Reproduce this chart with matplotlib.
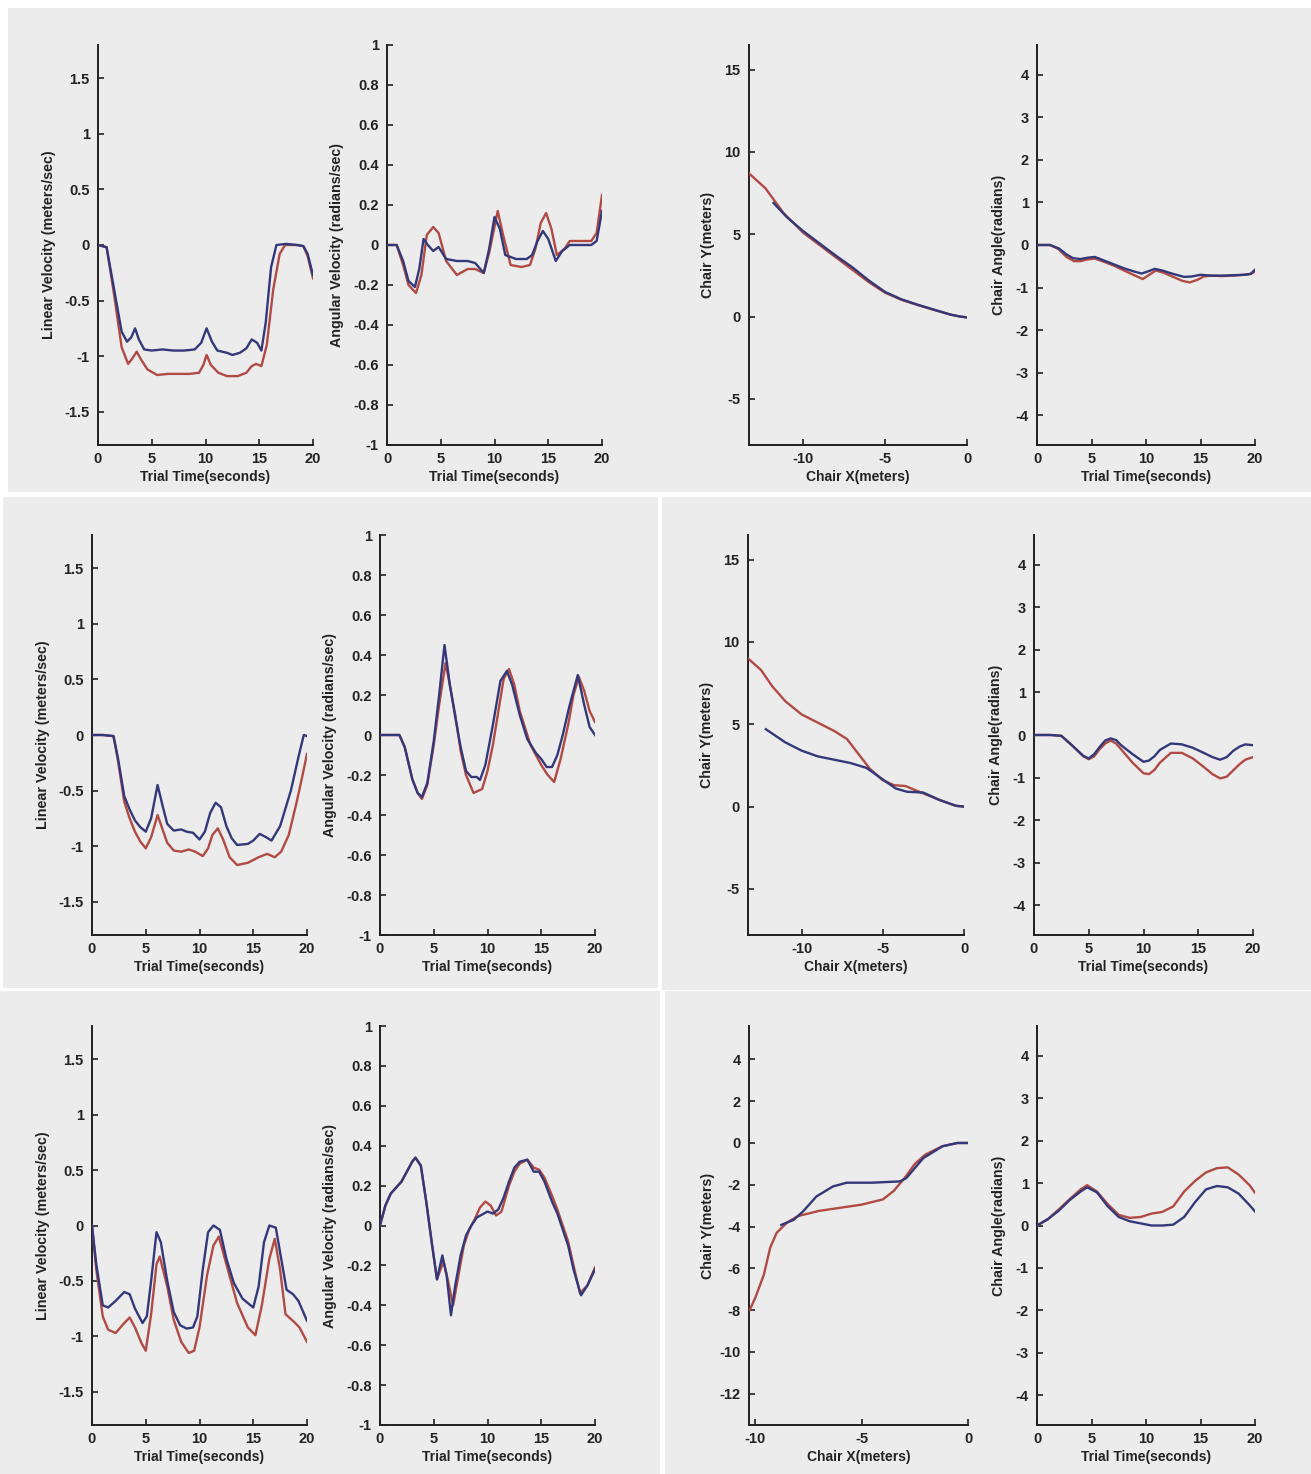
import matplotlib
matplotlib.use('Agg')
import matplotlib.pyplot as plt
from matplotlib.patches import Rectangle
import numpy as np

plt.rcParams['font.family'] = ['Liberation Sans', 'DejaVu Sans']

W, H = 1311, 1474
BLUE = '#33387a'
RED = '#b24a44'
BG = '#ececec'

# ---- data ----
# row 1
a1_t_blue = [0, 0.8, 1.5, 2.2, 2.7, 3.1, 3.45, 3.8, 4.3, 5, 6, 7, 8, 9, 9.6, 10.1, 10.6, 11.1, 12, 12.5, 13.2, 13.8, 14.3, 14.8, 15.2, 15.6, 16.1, 16.6, 17.5, 18.5, 19.1, 19.5, 20]
a1_v_blue = [0, -0.02, -0.4, -0.78, -0.87, -0.83, -0.75, -0.85, -0.94, -0.95, -0.94, -0.95, -0.95, -0.94, -0.88, -0.75, -0.87, -0.95, -0.97, -0.99, -0.97, -0.93, -0.85, -0.88, -0.95, -0.7, -0.2, 0, 0.01, 0, -0.01, -0.08, -0.27]
a1_t_red = [0, 0.8, 1.5, 2.2, 2.8, 3.2, 3.6, 4.0, 4.6, 5.5, 6.5, 7.5, 8.5, 9.4, 9.8, 10.1, 10.5, 11.2, 12, 13, 13.8, 14.3, 14.7, 15.2, 15.7, 16.3, 16.9, 17.4, 18.5, 19.1, 19.5, 20]
a1_v_red = [0, -0.02, -0.45, -0.92, -1.07, -1.02, -0.96, -1.03, -1.12, -1.17, -1.16, -1.16, -1.16, -1.15, -1.08, -0.99, -1.08, -1.15, -1.18, -1.18, -1.15, -1.09, -1.07, -1.09, -0.9, -0.4, -0.08, 0, 0, -0.01, -0.1, -0.3]

a2_t_blue = [0, 0.9, 1.5, 2.0, 2.6, 3.0, 3.4, 3.8, 4.3, 4.8, 5.5, 6.5, 7.5, 8.2, 9.0, 9.5, 10.0, 10.5, 11.0, 12.0, 13.0, 13.5, 14.0, 14.5, 15.0, 15.7, 16.3, 17.0, 18.0, 19.0, 19.5, 20]
a2_w_blue = [0, 0, -0.08, -0.18, -0.21, -0.12, 0.03, 0.0, -0.03, -0.01, -0.07, -0.08, -0.08, -0.09, -0.14, -0.02, 0.14, 0.08, -0.05, -0.07, -0.07, -0.05, 0.02, 0.07, 0.03, -0.08, -0.03, 0, 0, 0, 0.02, 0.17]
a2_t_red = [0, 0.9, 1.5, 2.0, 2.7, 3.2, 3.7, 4.3, 4.8, 5.5, 6.5, 7.5, 8.2, 9.0, 9.5, 10.3, 10.8, 11.5, 12.5, 13.3, 13.8, 14.3, 14.8, 15.3, 15.8, 16.5, 17.0, 18.0, 19.0, 19.5, 20]
a2_w_red = [0, 0, -0.1, -0.2, -0.24, -0.15, 0.05, 0.09, 0.06, -0.08, -0.15, -0.12, -0.12, -0.14, -0.04, 0.17, 0.05, -0.1, -0.11, -0.1, -0.02, 0.11, 0.16, 0.08, -0.05, -0.02, 0.02, 0.02, 0.02, 0.06, 0.25]

a3_x_red = [-13.3, -12.3, -11.2, -10.0, -9.0, -8.0, -7.0, -6.0, -5.0, -4.0, -3.0, -2.0, -1.0, -0.4, 0]
a3_y_red = [8.7, 7.8, 6.3, 5.1, 4.35, 3.6, 2.85, 2.1, 1.45, 1.02, 0.7, 0.4, 0.12, 0.0, -0.05]
a3_x_blue = [-11.8, -11.0, -10.0, -9.0, -8.0, -7.0, -6.0, -5.0, -4.0, -3.0, -2.0, -1.0, -0.4, 0]
a3_y_blue = [6.9, 6.05, 5.2, 4.45, 3.7, 3.0, 2.2, 1.5, 1.05, 0.72, 0.42, 0.12, 0.0, -0.05]

a4_t_blue = [0, 1.2, 2.0, 2.7, 3.3, 4.0, 4.6, 5.3, 6.0, 7.0, 8.0, 9.0, 9.6, 10.2, 10.8, 11.5, 12.5, 13.5, 14.2, 15.0, 16.0, 17.0, 18.0, 19.0, 19.6, 20]
a4_a_blue = [0, 0, -0.08, -0.22, -0.31, -0.33, -0.3, -0.28, -0.35, -0.45, -0.55, -0.63, -0.67, -0.62, -0.56, -0.6, -0.68, -0.75, -0.74, -0.7, -0.72, -0.72, -0.71, -0.7, -0.68, -0.58]
a4_t_red = [0, 1.2, 2.0, 2.7, 3.4, 4.0, 4.6, 5.3, 6.0, 7.0, 8.0, 9.0, 9.7, 10.3, 10.9, 11.6, 12.5, 13.3, 14.0, 14.7, 15.3, 16.0, 17.0, 18.0, 19.0, 19.6, 20]
a4_a_red = [0, 0, -0.1, -0.28, -0.38, -0.38, -0.34, -0.32, -0.38, -0.48, -0.6, -0.72, -0.8, -0.7, -0.6, -0.65, -0.75, -0.84, -0.88, -0.82, -0.74, -0.72, -0.73, -0.72, -0.7, -0.68, -0.62]

# row 2
b1_t_blue = [0, 1.0, 2.0, 2.4, 3.0, 3.5, 4.0, 4.5, 5.0, 5.5, 6.1, 6.6, 7.0, 7.6, 8.3, 8.8, 9.4, 10.0, 10.5, 11.0, 11.5, 12.0, 12.5, 13.0, 13.5, 14.5, 15.0, 15.6, 16.2, 16.7, 17.5, 18.5, 19.2, 19.7, 20]
b1_v_blue = [0, 0, -0.01, -0.2, -0.55, -0.67, -0.77, -0.83, -0.87, -0.75, -0.45, -0.65, -0.8, -0.86, -0.85, -0.87, -0.88, -0.94, -0.87, -0.7, -0.61, -0.65, -0.82, -0.93, -0.99, -0.98, -0.95, -0.89, -0.92, -0.95, -0.82, -0.5, -0.2, 0.0, -0.01]
b1_t_red = [0, 1.0, 2.0, 2.4, 3.0, 3.5, 4.0, 4.5, 5.0, 5.5, 6.1, 6.6, 7.0, 7.6, 8.3, 9.0, 9.6, 10.3, 10.8, 11.2, 11.7, 12.2, 12.8, 13.5, 14.5, 15.5, 16.3, 17.0, 17.6, 18.3, 19.0, 19.5, 20]
b1_v_red = [0, 0, -0.01, -0.22, -0.6, -0.75, -0.87, -0.96, -1.02, -0.92, -0.72, -0.86, -0.97, -1.04, -1.05, -1.03, -1.05, -1.09, -1.02, -0.9, -0.84, -0.94, -1.1, -1.17, -1.15, -1.1, -1.07, -1.1, -1.05, -0.9, -0.62, -0.4, -0.17]

b2_t_blue = [0, 1.0, 1.8, 2.3, 3.0, 3.5, 3.9, 4.4, 5.0, 5.5, 6.0, 6.5, 7.0, 7.5, 8.0, 8.5, 9.0, 9.3, 9.8, 10.5, 11.2, 11.8, 12.3, 13.0, 13.7, 14.5, 15.0, 15.5, 16.0, 16.5, 17.0, 17.6, 18.4, 19.0, 19.5, 20]
b2_w_blue = [0, 0, 0, -0.06, -0.22, -0.29, -0.31, -0.24, -0.03, 0.2, 0.45, 0.25, 0.09, -0.06, -0.18, -0.21, -0.21, -0.225, -0.15, 0.05, 0.27, 0.32, 0.25, 0.1, -0.02, -0.09, -0.12, -0.16, -0.16, -0.1, 0.0, 0.14, 0.3, 0.15, 0.04, 0.0]
b2_t_red = [0, 1.0, 1.8, 2.3, 3.0, 3.5, 3.9, 4.4, 5.0, 5.5, 6.1, 6.6, 7.0, 7.5, 8.0, 8.7, 9.5, 10.0, 10.5, 11.5, 12.0, 12.5, 13.0, 14.0, 15.0, 15.6, 16.2, 16.8, 17.5, 18.0, 18.5, 19.0, 19.5, 20]
b2_w_red = [0, 0, 0, -0.06, -0.22, -0.29, -0.32, -0.25, -0.05, 0.15, 0.36, 0.22, 0.1, -0.08, -0.2, -0.29, -0.27, -0.18, -0.05, 0.28, 0.33, 0.25, 0.12, -0.05, -0.15, -0.2, -0.235, -0.12, 0.05, 0.2, 0.29, 0.22, 0.12, 0.065]

b3_x_red = [-13.3, -12.5, -11.8, -11.0, -10.0, -9.0, -8.0, -7.2, -6.5, -5.8, -5.0, -4.3, -3.6, -3.0, -2.5, -1.5, -0.5, 0]
b3_y_red = [9.0, 8.3, 7.3, 6.4, 5.6, 5.1, 4.6, 4.1, 3.2, 2.3, 1.6, 1.3, 1.25, 1.0, 0.8, 0.4, 0.05, 0.0]
b3_x_blue = [-12.2, -11.0, -10.0, -9.0, -8.0, -7.0, -6.0, -5.0, -4.2, -3.5, -3.0, -2.5, -1.5, -0.5, 0]
b3_y_blue = [4.7, 3.9, 3.4, 3.05, 2.85, 2.65, 2.35, 1.65, 1.1, 0.9, 0.88, 0.85, 0.4, 0.05, 0.0]

b4_t = [0, 1.5, 2.5, 3.5, 4.5, 5.0, 5.5, 6.0, 6.5, 7.0, 7.5, 8.0, 9.0, 10.0, 10.5, 11.0, 11.5, 12.5, 13.5, 14.5, 15.5, 16.3, 17.0, 17.6, 18.2, 18.8, 19.3, 20]
b4_a_blue = [0, 0, -0.02, -0.25, -0.49, -0.55, -0.45, -0.28, -0.13, -0.08, -0.12, -0.25, -0.45, -0.63, -0.6, -0.5, -0.35, -0.2, -0.22, -0.3, -0.42, -0.52, -0.58, -0.52, -0.37, -0.27, -0.22, -0.24]
b4_a_red = [0, 0, -0.02, -0.25, -0.5, -0.57, -0.5, -0.33, -0.2, -0.13, -0.2, -0.35, -0.65, -0.9, -0.92, -0.82, -0.65, -0.42, -0.42, -0.55, -0.75, -0.92, -1.02, -0.98, -0.83, -0.68, -0.58, -0.52]

# row 3
c1_t_blue = [0, 0.4, 1.0, 1.5, 2.2, 3.0, 3.5, 4.0, 4.7, 5.1, 5.5, 6.0, 6.4, 7.0, 7.6, 8.2, 8.8, 9.4, 9.8, 10.3, 10.8, 11.3, 11.9, 12.5, 13.2, 14.0, 15.0, 15.5, 16.0, 16.5, 17.1, 17.6, 18.1, 18.7, 19.2, 20]
c1_v_blue = [0, -0.35, -0.72, -0.74, -0.68, -0.6, -0.62, -0.75, -0.88, -0.82, -0.5, -0.06, -0.15, -0.5, -0.78, -0.9, -0.93, -0.92, -0.82, -0.4, -0.06, 0.0, -0.04, -0.3, -0.52, -0.66, -0.74, -0.55, -0.15, 0.0, -0.02, -0.3, -0.58, -0.62, -0.68, -0.86]
c1_t_red = [0, 0.4, 1.0, 1.5, 2.2, 3.0, 3.5, 4.0, 4.6, 5.0, 5.5, 6.0, 6.3, 7.0, 7.6, 8.3, 9.0, 9.5, 10.0, 10.7, 11.3, 11.8, 12.5, 13.5, 14.5, 15.2, 15.8, 16.5, 17.0, 17.5, 18.0, 18.8, 19.3, 20]
c1_v_red = [0, -0.4, -0.82, -0.94, -0.97, -0.88, -0.83, -0.92, -1.06, -1.13, -0.8, -0.35, -0.28, -0.55, -0.85, -1.05, -1.15, -1.13, -0.92, -0.45, -0.18, -0.1, -0.35, -0.7, -0.92, -0.99, -0.72, -0.3, -0.12, -0.4, -0.8, -0.87, -0.92, -1.05]

c2_t_blue = [0, 0.5, 1.0, 1.5, 2.0, 2.5, 3.0, 3.3, 3.8, 4.3, 4.8, 5.3, 5.8, 6.2, 6.6, 7.0, 7.5, 8.0, 8.5, 9.0, 10.0, 10.5, 11.0, 11.5, 12.0, 12.5, 13.0, 13.7, 14.3, 14.8, 15.3, 16.0, 16.5, 17.0, 17.5, 18.0, 18.7, 19.3, 20]
c2_w_blue = [0, 0.1, 0.16, 0.19, 0.22, 0.27, 0.32, 0.34, 0.3, 0.12, -0.08, -0.27, -0.15, -0.25, -0.45, -0.3, -0.15, -0.05, 0.0, 0.04, 0.07, 0.06, 0.08, 0.14, 0.22, 0.29, 0.32, 0.33, 0.27, 0.27, 0.22, 0.12, 0.06, -0.02, -0.1, -0.22, -0.35, -0.3, -0.22]
c2_t_red = [0, 0.5, 1.0, 1.5, 2.0, 2.5, 3.0, 3.3, 3.8, 4.3, 4.8, 5.3, 5.9, 6.3, 6.8, 7.3, 7.8, 8.3, 8.8, 9.3, 9.8, 10.3, 10.8, 11.3, 12.0, 12.5, 13.0, 13.7, 14.3, 14.8, 15.3, 16.0, 16.5, 17.0, 17.5, 18.0, 18.6, 19.3, 20]
c2_w_red = [0, 0.1, 0.16, 0.19, 0.22, 0.27, 0.32, 0.34, 0.3, 0.12, -0.08, -0.27, -0.18, -0.27, -0.4, -0.25, -0.1, -0.02, 0.03, 0.09, 0.12, 0.1, 0.05, 0.07, 0.2, 0.27, 0.31, 0.33, 0.29, 0.28, 0.24, 0.15, 0.08, 0.0, -0.08, -0.2, -0.34, -0.3, -0.21]

c3_x_red = [-10.27, -10.0, -9.6, -9.3, -9.0, -8.5, -8.0, -7.0, -6.0, -5.0, -4.0, -3.5, -3.0, -2.5, -2.0, -1.2, -0.5, 0]
c3_y_red = [-8.0, -7.4, -6.3, -5.0, -4.3, -3.8, -3.5, -3.25, -3.1, -2.95, -2.7, -2.3, -1.7, -1.0, -0.55, -0.15, 0.0, 0.0]
c3_x_blue = [-8.78, -8.2, -7.76, -7.13, -6.35, -5.7, -4.5, -3.2, -2.9, -2.5, -2.1, -1.2, -0.5, 0]
c3_y_blue = [-3.92, -3.68, -3.28, -2.56, -2.08, -1.9, -1.9, -1.84, -1.68, -1.2, -0.72, -0.16, 0.0, 0.0]

c4_t = [0, 1, 2, 3, 4, 4.6, 5.5, 6.5, 7.5, 8.5, 9.5, 10.5, 11.5, 12.5, 13.5, 14.5, 15.5, 16.5, 17.5, 18.5, 19.5, 20]
c4_a_blue = [0, 0.15, 0.35, 0.6, 0.8, 0.9, 0.78, 0.45, 0.2, 0.1, 0.05, 0.0, 0.0, 0.02, 0.2, 0.55, 0.85, 0.93, 0.9, 0.75, 0.48, 0.33]
c4_a_red = [0, 0.15, 0.38, 0.62, 0.85, 0.95, 0.8, 0.5, 0.25, 0.18, 0.2, 0.28, 0.32, 0.45, 0.8, 1.05, 1.25, 1.35, 1.37, 1.2, 0.95, 0.77]

# tick sets and labels
lin_ticks = [-1.5, -1, -0.5, 0, 0.5, 1, 1.5]
lin_labels = ['-1.5', '-1', '-0.5', '0', '0.5', '1', '1.5']
ang_ticks = [-1, -0.8, -0.6, -0.4, -0.2, 0, 0.2, 0.4, 0.6, 0.8, 1]
ang_labels = ['-1', '-0.8', '-0.6', '-0.4', '-0.2', '0', '0.2', '0.4', '0.6', '0.8', '1']
time_ticks = [0, 5, 10, 15, 20]
chx_ticks = [-10, -5, 0]
chy_ticks_top = [-5, 0, 5, 10, 15]
chy_ticks_bot = [-12, -10, -8, -6, -4, -2, 0, 2, 4]
cha_ticks = [-4, -3, -2, -1, 0, 1, 2, 3, 4]

fig = plt.figure(figsize=(W / 100, H / 100), dpi=100)
fig.patch.set_facecolor('white')

# grey screenshot panels (pixel boxes: x0, y0, x1, y1)
panels = [(8, 8, 1311, 492), (3, 497, 658, 988), (662, 497, 1311, 990),
          (0, 991, 660, 1474), (665, 991, 1311, 1474)]
for x0, y0, x1, y1 in panels:
    fig.add_artist(Rectangle((x0 / W, 1 - y1 / H), (x1 - x0) / W, (y1 - y0) / H,
                             transform=fig.transFigure, facecolor=BG, edgecolor='none', zorder=-10))


def make_ax(l, t, r, b):
    ax = fig.add_axes([l / W, 1 - b / H, (r - l) / W, (b - t) / H])
    ax.set_zorder(5)
    return ax


def style(ax, xlabel, ylabel, ylab_off, xlim, ylim, xt, yt, ytl=None):
    ax.set_facecolor('none')
    for s in ['top', 'right']:
        ax.spines[s].set_visible(False)
    for s in ['left', 'bottom']:
        ax.spines[s].set_linewidth(1.4)
        ax.spines[s].set_color('#202020')
    ax.set_xlim(xlim)
    ax.set_ylim(ylim)
    ax.set_xticks(xt)
    ax.set_xticklabels([str(v) for v in xt])
    ax.set_yticks(yt)
    ax.set_yticklabels(ytl if ytl else [str(v) for v in yt])
    ax.tick_params(direction='in', length=4, width=1.2, colors='#202020',
                   labelsize=10.5)
    ax.tick_params(axis='y', pad=6)
    ax.tick_params(axis='x', pad=5)
    for lab in ax.get_xticklabels() + ax.get_yticklabels():
        lab.set_fontweight('bold')
        lab.set_color('#222222')
    ax.set_xlabel(xlabel, fontsize=10, fontweight='bold', color='#222222')
    ax.set_ylabel(ylabel, fontsize=10.3, fontweight='bold', color='#222222')
    wpx = ax.get_position().width * W
    hpx = ax.get_position().height * H
    ax.xaxis.set_label_coords(0.5, -25 / hpx)
    ax.yaxis.set_label_coords(-ylab_off / wpx, 0.5)


def lines(ax, xb, yb, xr, yr):
    ax.plot(xr, yr, color=RED, lw=1.7, zorder=3)
    ax.plot(xb, yb, color=BLUE, lw=1.7, zorder=4)


TT = 'Trial Time(seconds)'
LV = 'Linear Velocity (meters/sec)'
AV = 'Angular Velocity (radians/sec)'
CY = 'Chair Y(meters)'
CX = 'Chair X(meters)'
CA = 'Chair Angle(radians)'

rows = [
    dict(top=45, bot=445, lin=(98, 313), ang=(387, 602), chy=(749, 967), cha=(1037, 1255),
         d1=(a1_t_blue, a1_v_blue, a1_t_red, a1_v_red),
         d2=(a2_t_blue, a2_w_blue, a2_t_red, a2_w_red),
         d3=(a3_x_blue, a3_y_blue, a3_x_red, a3_y_red),
         d4=(a4_t_blue, a4_a_blue, a4_t_red, a4_a_red),
         cxlim=(-13.3, 0), cylim=(-7.8, 16.5), cyt=chy_ticks_top),
    dict(top=535, bot=935, lin=(92, 307), ang=(380, 595), chy=(748, 964), cha=(1034, 1253),
         d1=(b1_t_blue, b1_v_blue, b1_t_red, b1_v_red),
         d2=(b2_t_blue, b2_w_blue, b2_t_red, b2_w_red),
         d3=(b3_x_blue, b3_y_blue, b3_x_red, b3_y_red),
         d4=(b4_t, b4_a_blue, b4_t, b4_a_red),
         cxlim=(-13.3, 0), cylim=(-7.8, 16.5), cyt=chy_ticks_top),
    dict(top=1026, bot=1425, lin=(92, 307), ang=(380, 595), chy=(749, 968), cha=(1037, 1255),
         d1=(c1_t_blue, c1_v_blue, c1_t_red, c1_v_red),
         d2=(c2_t_blue, c2_w_blue, c2_t_red, c2_w_red),
         d3=(c3_x_blue, c3_y_blue, c3_x_red, c3_y_red),
         d4=(c4_t, c4_a_blue, c4_t, c4_a_red),
         cxlim=(-10.3, 0), cylim=(-13.5, 5.6), cyt=chy_ticks_bot),
]

for r in rows:
    ax = make_ax(r['lin'][0], r['top'], r['lin'][1], r['bot'])
    lines(ax, *r['d1'])
    style(ax, TT, LV, 42, (0, 20), (-1.8, 1.8), time_ticks, lin_ticks, lin_labels)

    ax = make_ax(r['ang'][0], r['top'], r['ang'][1], r['bot'])
    lines(ax, *r['d2'])
    style(ax, TT, AV, 43, (0, 20), (-1, 1), time_ticks, ang_ticks, ang_labels)

    ax = make_ax(r['chy'][0], r['top'], r['chy'][1], r['bot'])
    lines(ax, *r['d3'])
    style(ax, CX, CY, 34, r['cxlim'], r['cylim'], chx_ticks, r['cyt'])

    ax = make_ax(r['cha'][0], r['top'], r['cha'][1], r['bot'])
    lines(ax, *r['d4'])
    style(ax, TT, CA, 31, (0, 20), (-4.7, 4.7), time_ticks, cha_ticks)

fig.savefig('out.png', dpi=100, facecolor=fig.get_facecolor())
